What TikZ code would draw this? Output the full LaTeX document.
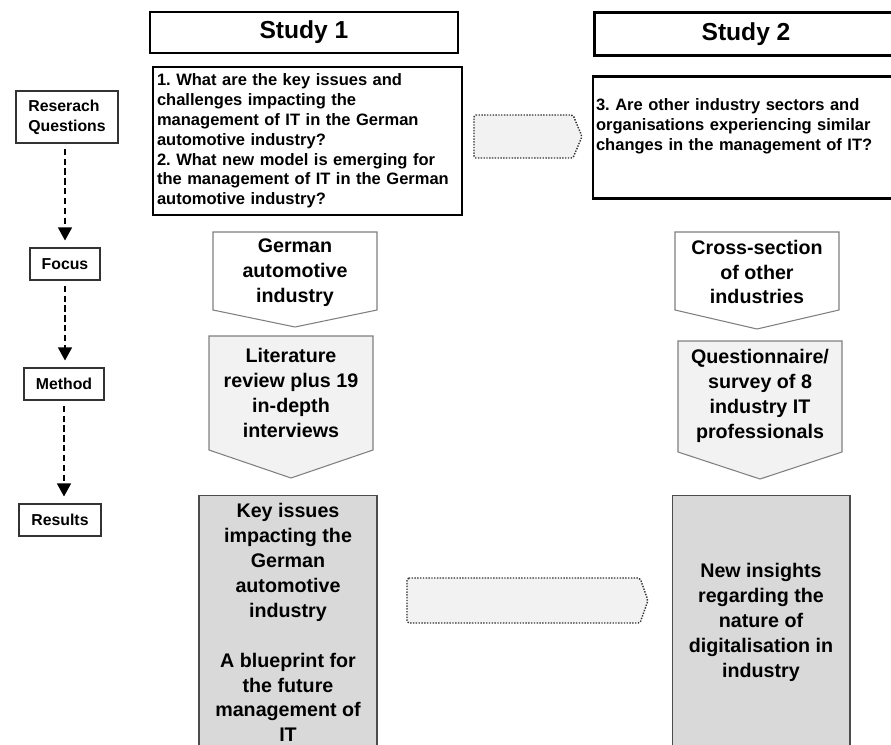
\documentclass[tikz,border=0pt]{standalone}
\usepackage{fontspec}
\setmainfont{Liberation Sans}
\usetikzlibrary{arrows.meta, positioning}
\definecolor{pale}{HTML}{F2F2F2}
\definecolor{shade}{HTML}{D9D9D9}
\definecolor{rim}{HTML}{7F7F7F}
\frenchspacing

\begin{document}
\begin{tikzpicture}[
    x=0.02cm, y=-0.02cm,
    lbl/.style={draw=black!80, line width=0.6pt, inner sep=0pt, align=left,
                font=\bfseries\fontsize{9}{11.3}\selectfont},
    ttl/.style={draw, line width=1.5pt, inner sep=0pt,
                font=\bfseries\fontsize{14}{16}\selectfont},
    qbox/.style={draw, line width=1.5pt, inner ysep=0pt, align=left,
                 font=\bfseries\fontsize{9.4}{11.3}\selectfont},
    pent/.style={draw=rim, line width=0.6pt, line join=miter},
    txt/.style={align=center, inner sep=0pt,
                font=\bfseries\fontsize{11.2}{14.2}\selectfont},
    res/.style={draw=black!70, fill=shade, line width=0.6pt, inner sep=0pt,
                align=center, minimum width=3.56cm, minimum height=5.1cm,
                font=\bfseries\fontsize{11.2}{14.2}\selectfont},
    blk/.style={draw=black!80, fill=pale, line width=0.8pt,
                dash pattern=on 0.8pt off 0.8pt, rounded corners=1pt},
    flow/.style={line width=0.7pt, dash pattern=on 3.6pt off 2pt,
                 -{Triangle[length=2.6mm, width=2.8mm]},
                 shorten <=3pt, shorten >=4pt},
  ]
  \useasboundingbox (0,0) rectangle (891,744);
  \clip (0,0) rectangle (891,744);

  % Left column: stages
  \node[lbl, minimum width=2.04cm, minimum height=1.04cm] (rq) at (67,117) {Reserach\\Questions};
  \node[lbl, minimum width=1.4cm, minimum height=0.64cm] (focus) at (65,264) {Focus};
  \node[lbl, minimum width=1.6cm, minimum height=0.64cm] (method) at (64,384) {Method};
  \node[lbl, minimum width=1.64cm, minimum height=0.64cm] (results) at (60,520) {Results};
  \draw[flow] (rq.south -| focus.north) -- (focus.north);
  \draw[flow] (focus.south) -- (focus.south |- method.north);
  \draw[flow] (method.south) -- (method.south |- results.north);

  % Study headers
  \node[ttl, minimum width=6.16cm, minimum height=0.82cm] (s1) at (304,32.5) {Study 1};
  \node[ttl, minimum width=6.06cm, minimum height=0.86cm] (s2) at (746,34) {Study 2};

  % Research questions
  \node[qbox, inner xsep=0.08cm, text width=6.02cm, minimum height=2.96cm] (q1) at (307.5,141)
    {1. What are the key issues and\\
     challenges impacting the\\
     management of IT in the German\\
     automotive industry?\\
     2. What new model is emerging for\\
     the management of IT in the German\\
     automotive industry?};
  \node[qbox, inner xsep=0.06cm, text width=6.5cm, minimum height=2.44cm] (q3) at (758.5,137.5)
    {3. Are other industry sectors and\\
     organisations experiencing similar\\
     changes in the management of IT?\\
     \strut};
  \draw[blk] (474,115) -- (573,115) -- (582,136.5) -- (573,158) -- (474,158) -- cycle;

  % Study 1: focus and method
  \draw[pent, fill=white] (213,232) -- (377,232) -- (377,310) -- (295,327) -- (213,310) -- cycle;
  \node[txt] (focus1) at (295,273) {German\\automotive\\industry};
  \draw[pent, fill=pale] (209,336) -- (373,336) -- (373,450) -- (291,478) -- (209,450) -- cycle;
  \node[txt] (method1) at (291,393) {Literature\\review plus 19\\in-depth\\interviews};

  % Study 2: focus and method
  \draw[pent, fill=white] (675,232) -- (839,232) -- (839,310) -- (757,329) -- (675,310) -- cycle;
  \node[txt] (focus2) at (757,272) {Cross-section\\of other\\industries};
  \draw[pent, fill=pale] (678,341) -- (842,341) -- (842,452) -- (760,479) -- (678,452) -- cycle;
  \node[txt] (method2) at (760,396) {Questionnaire/\\survey of 8\\industry IT\\professionals};

  % Results
  \node[res] (res1) at (288,622.5)
    {Key issues\\impacting the\\German\\automotive\\industry\\[14.2pt]
     A blueprint for\\the future\\management of\\IT};
  \node[res] (res2) at (761,622.5)
    {New insights\\regarding the\\nature of\\digitalisation in\\industry};
  \draw[blk] (407,578) -- (640,578) -- (648,600.5) -- (640,623) -- (407,623) -- cycle;
\end{tikzpicture}
\end{document}
